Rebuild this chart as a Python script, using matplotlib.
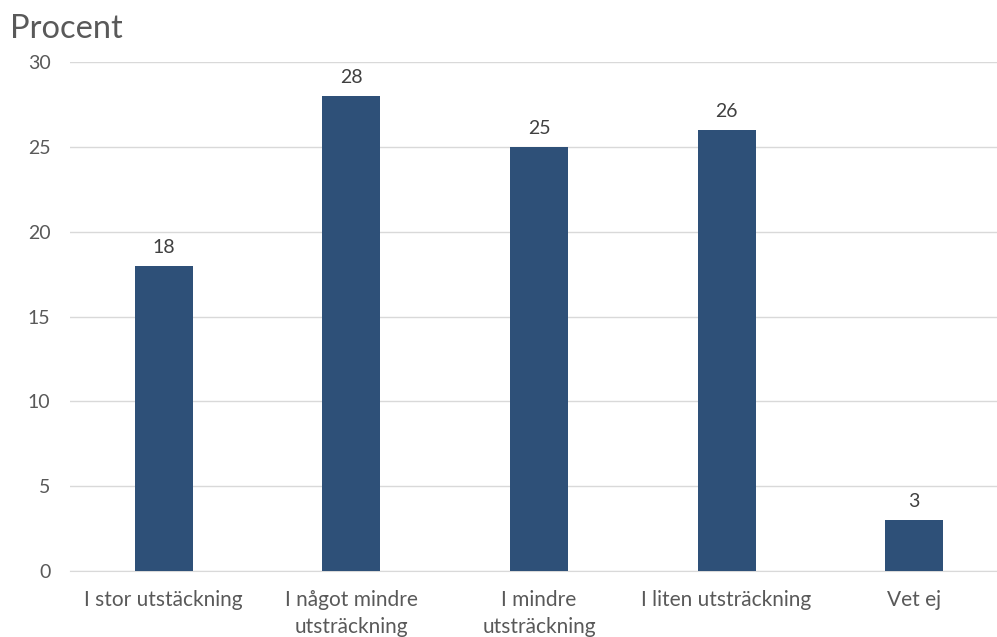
import matplotlib
matplotlib.use("Agg")
import matplotlib.pyplot as plt

categories = ["I stor utstäckning", "I något mindre\nutsträckning", "I mindre\nutsträckning",
              "I liten utsträckning", "Vet ej"]
values = [18, 28, 25, 26, 3]
yticks = [0, 5, 10, 15, 20, 25, 30]

plt.rcParams['font.family'] = ['Lato', 'DejaVu Sans']
W, H = 997, 637
fig = plt.figure(figsize=(W/100, H/100), dpi=100)
ax = fig.add_axes([70/W, (H-571)/H, 938/W, 509/H])

bar_color = "#2E5078"
text_color = "#595959"
x = range(len(categories))
ax.bar(x, values, width=0.31, color=bar_color, zorder=3)
for xi, v in zip(x, values):
    ax.annotate(str(v), (xi, v), xytext=(0, 7), textcoords="offset points",
                ha="center", va="bottom", fontsize=14, color="#404040")

ax.set_xlim(-0.5, len(categories) - 0.5)
ax.set_ylim(0, 30)
ax.set_yticks(yticks)
ax.set_yticklabels([str(t) for t in yticks])
ax.set_xticks(list(x))
ax.set_xticklabels(categories, linespacing=1.4)
ax.tick_params(axis="both", length=0, colors=text_color)
ax.tick_params(axis="x", labelsize=15, pad=14)
ax.tick_params(axis="y", labelsize=14, pad=14)
ax.grid(axis="y", color="#D9D9D9", linewidth=1, zorder=0)
for s in ["top", "right", "left"]:
    ax.spines[s].set_visible(False)
ax.spines["bottom"].set_color("#D9D9D9")

fig.text(10/W, 1 - 29/H, "Procent", fontsize=23.5, color=text_color, ha="left", va="center")

fig.savefig("out.png", dpi=100)
